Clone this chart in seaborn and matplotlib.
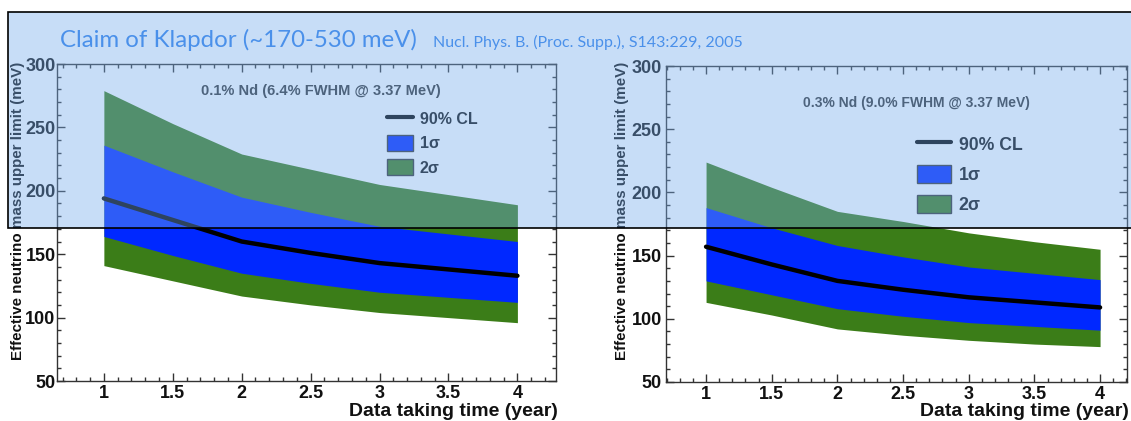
import matplotlib
matplotlib.use("Agg")
import matplotlib.pyplot as plt
import seaborn as sns
from matplotlib.patches import Rectangle, Patch
from matplotlib.lines import Line2D
from matplotlib.ticker import MultipleLocator

# ---------------- data ----------------
years = [1.0, 1.5, 2.0, 2.5, 3.0, 3.5, 4.0]

# left panel: 0.1% Nd
left_2s_up = [279, 253, 229, 217, 205, 197, 189]
left_1s_up = [236, 215, 195, 183, 172, 166, 160]
left_median = [194, 177, 160, 151, 143, 138, 133]
left_1s_lo = [164, 149, 135, 127, 120, 116, 112]
left_2s_lo = [141, 129, 117, 110, 104, 100, 96]

# right panel: 0.3% Nd
right_2s_up = [224, 204, 185, 177, 168, 161, 155]
right_1s_up = [188, 172, 158, 149, 141, 136, 131]
right_median = [157, 143, 130, 123, 117, 113, 109]
right_1s_lo = [130, 119, 108, 102, 97, 94, 91]
right_2s_lo = [113, 103, 92, 87, 83, 80, 78]

left_note = "0.1% Nd (6.4% FWHM @ 3.37 MeV)"
right_note = "0.3% Nd (9.0% FWHM @ 3.37 MeV)"
legend_labels = ["90% CL", "1\u03c3", "2\u03c3"]
ylabel = "Effective neutrino mass upper limit (meV)"
xlabel = "Data taking time (year)"
claim_title = "Claim of Klapdor (~170-530 meV)"
claim_ref = "Nucl. Phys. B. (Proc. Supp.), S143:229, 2005"

# ---------------- style ----------------
sns.set_style("ticks")
plt.rcParams['font.family'] = ['Liberation Sans', 'DejaVu Sans']

BLUE = "#0028ff"
GREEN = "#3b7d18"
FRAME = "#333333"

W, H = 1131, 421
fig = plt.figure(figsize=(W / 100, H / 100), dpi=100)
fig.patch.set_facecolor("white")

ax1 = fig.add_axes([57 / W, 1 - 381 / H, 499 / W, 317 / H])
ax2 = fig.add_axes([666 / W, 1 - 382 / H, 461 / W, 316 / H])


def panel(ax, up2, up1, med, lo1, lo2, xlim, ypad):
    ax.fill_between(years, lo2, up2, color=GREEN, lw=0, zorder=1)
    ax.fill_between(years, lo1, up1, color=BLUE, lw=0, zorder=2)
    sns.lineplot(x=years, y=med, ax=ax, color="black", lw=3.2, zorder=3)
    ax.set_xlim(*xlim)
    ax.set_ylim(50, 300)
    ax.xaxis.set_major_locator(MultipleLocator(0.5))
    ax.xaxis.set_minor_locator(MultipleLocator(0.1))
    ax.yaxis.set_major_locator(MultipleLocator(50))
    ax.yaxis.set_minor_locator(MultipleLocator(10))
    ax.tick_params(axis="both", which="both", direction="in",
                   top=True, right=True, color=FRAME, width=1)
    ax.tick_params(axis="both", which="major", length=6)
    ax.tick_params(axis="both", which="minor", length=3)
    ax.tick_params(axis="x", which="major", pad=3)
    ax.tick_params(axis="y", which="major", pad=ypad)
    ax.set_xticks([1, 1.5, 2, 2.5, 3, 3.5, 4])
    ax.set_xticklabels(["1", "1.5", "2", "2.5", "3", "3.5", "4"])
    for lab in ax.get_xticklabels() + ax.get_yticklabels():
        lab.set_fontweight("bold")
        lab.set_fontsize(13)
        lab.set_color("#111111")
    for sp in ax.spines.values():
        sp.set_visible(True)
        sp.set_color(FRAME)
        sp.set_linewidth(1)
    ax.set_xlabel("")
    ax.set_ylabel("")
    ax.set_facecolor("white")


panel(ax1, left_2s_up, left_1s_up, left_median, left_1s_lo, left_2s_lo,
      (0.66, 4.28), 1)
panel(ax2, right_2s_up, right_1s_up, right_median, right_1s_lo, right_2s_lo,
      (0.695, 4.205), 3)

# notes
fig.text(321 / W, 1 - 91 / H, left_note, ha="center", va="center",
         fontsize=10.5, fontweight="bold", color="#333333")
fig.text(916 / W, 1 - 103 / H, right_note, ha="center", va="center",
         fontsize=10, fontweight="bold", color="#333333")


def legend(ax, loc, fs, hl, hh, ls):
    handles = [Line2D([], [], color="black", lw=3),
               Patch(facecolor=BLUE, edgecolor=FRAME, lw=1),
               Patch(facecolor=GREEN, edgecolor=FRAME, lw=1)]
    leg = ax.legend(handles, legend_labels, loc="upper left", bbox_to_anchor=loc,
                    frameon=False, handlelength=hl, handleheight=hh,
                    labelspacing=ls, handletextpad=0.45, borderaxespad=0,
                    borderpad=0, prop={"weight": "bold", "size": fs})
    for t in leg.get_texts():
        t.set_color("#111111")


legend(ax1, ((387 - 57) / 499, (381 - 110) / 317), 11.5, 1.6, 1.2, 0.5)
legend(ax2, ((917 - 666) / 461, (382 - 135) / 316), 12.7, 1.92, 1.19, 0.62)

# axis titles
fig.text(18 / W, 1 - 62 / H, ylabel, rotation=90, ha="center", va="top",
         fontsize=10.9, fontweight="bold", color="#111111")
fig.text(622 / W, 1 - 62 / H, ylabel, rotation=90, ha="center", va="top",
         fontsize=10.9, fontweight="bold", color="#111111")
fig.text(558 / W, 1 - 411 / H, xlabel, ha="right", va="center",
         fontsize=14, fontweight="bold", color="#111111")
fig.text(1129 / W, 1 - 411 / H, xlabel, ha="right", va="center",
         fontsize=14, fontweight="bold", color="#111111")

# overlay band (claim region)
rect = Rectangle((8 / W, 1 - 228 / H), 1.2, 216 / H, transform=fig.transFigure,
                 facecolor=(117 / 255, 172 / 255, 237 / 255, 0.4),
                 edgecolor="black", lw=1.2, zorder=10)
fig.add_artist(rect)

fig.text(60 / W, 1 - 40 / H, claim_title, ha="left", va="center",
         fontsize=17.3, color="#4a90ea", family=["Lato", "DejaVu Sans"], zorder=11)
fig.text(433 / W, 1 - 42 / H, claim_ref, ha="left", va="center",
         fontsize=11.5, color="#4a90ea", family=["Lato", "DejaVu Sans"], zorder=11)

fig.savefig("out.png", dpi=100)
